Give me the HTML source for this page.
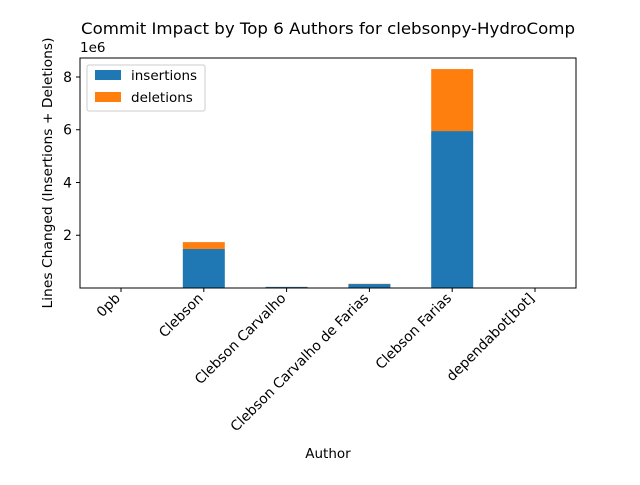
<!DOCTYPE html>
<html><head><meta charset="utf-8"><style>
body{margin:0;background:#fff;}
svg{font-family:"DejaVu Sans","Liberation Sans",sans-serif;}
</style></head><body>
<svg id="c" width="640" height="480" xmlns="http://www.w3.org/2000/svg">
<rect width="640" height="480" fill="#fff"/>
<text x="328" y="34" font-size="16" text-anchor="middle" textLength="494" lengthAdjust="spacingAndGlyphs">Commit Impact by Top 6 Authors for clebsonpy-HydroComp</text>
<g id="bars"></g>
<g id="axes"></g>
<text x="328" y="458" font-size="13.5" text-anchor="middle">Author</text>
<text transform="translate(52,173) rotate(-90)" font-size="13" text-anchor="middle" textLength="271" lengthAdjust="spacingAndGlyphs">Lines Changed (Insertions + Deletions)</text>
<text x="80" y="52" font-size="13.5">1e6</text>
<g>
<rect x="87" y="65" width="118" height="46" fill="#fff" stroke="#ccc" rx="2"/>
<rect x="95" y="70" width="26" height="10" fill="#1f77b4"/>
<text x="131" y="80" font-size="13.5">insertions</text>
<rect x="95" y="92" width="26" height="10" fill="#ff7f0e"/>
<text x="131" y="102" font-size="13.5">deletions</text>
</g>
</svg>
<script>
const categories=["0pb","Clebson","Clebson Carvalho","Clebson Carvalho de Farias","Clebson Farias","dependabot[bot]"];
const insertions=[1000,1480000,40000,150000,5950000,500];
const deletions=[500,260000,5000,10000,2350000,200];
const yTicks=[2,4,6,8];
const NS="http://www.w3.org/2000/svg";
const L=80,R=576,T=58,B=288,YMAX=8.72e6;
function x(i){return L+41+i*82.8;}
function y(v){return B-v*(B-T)/YMAX;}
function mk(t,a,p){const e=document.createElementNS(NS,t);for(const k in a)e.setAttribute(k,a[k]);p.appendChild(e);return e;}
const bars=document.getElementById('bars'),axes=document.getElementById('axes');
categories.forEach((c,i)=>{
  const bw=42,x0=x(i)-bw/2;
  const r1=mk('rect',{x:x0,y:y(insertions[i]),width:bw,height:B-y(insertions[i]),fill:'#1f77b4'},bars);
  
  
  const r2=mk('rect',{x:x0,y:y(insertions[i]+deletions[i]),width:bw,height:y(insertions[i])-y(insertions[i]+deletions[i]),fill:'#ff7f0e'},bars);
  
  
  mk('line',{x1:x(i),x2:x(i),y1:B,y2:B+4,stroke:'#000'},axes);
  const t=mk('text',{x:0,y:0,'font-size':13.9,'text-anchor':'end',transform:`translate(${x(i)},${B+11}) rotate(-45)`},axes);
  t.textContent=c;
  
  
});
yTicks.forEach(v=>{
  const yy=y(v*1e6);
  mk('line',{x1:L-4,x2:L,y1:yy,y2:yy,stroke:'#000'},axes);
  const t=mk('text',{x:L-8,y:yy+5,'font-size':13.9,'text-anchor':'end'},axes);
  t.textContent=v;
  
  
});
const f=mk('rect',{x:L,y:T,width:R-L,height:B-T,fill:'none',stroke:'#000','stroke-width':1},axes);


</script>
</body></html>
